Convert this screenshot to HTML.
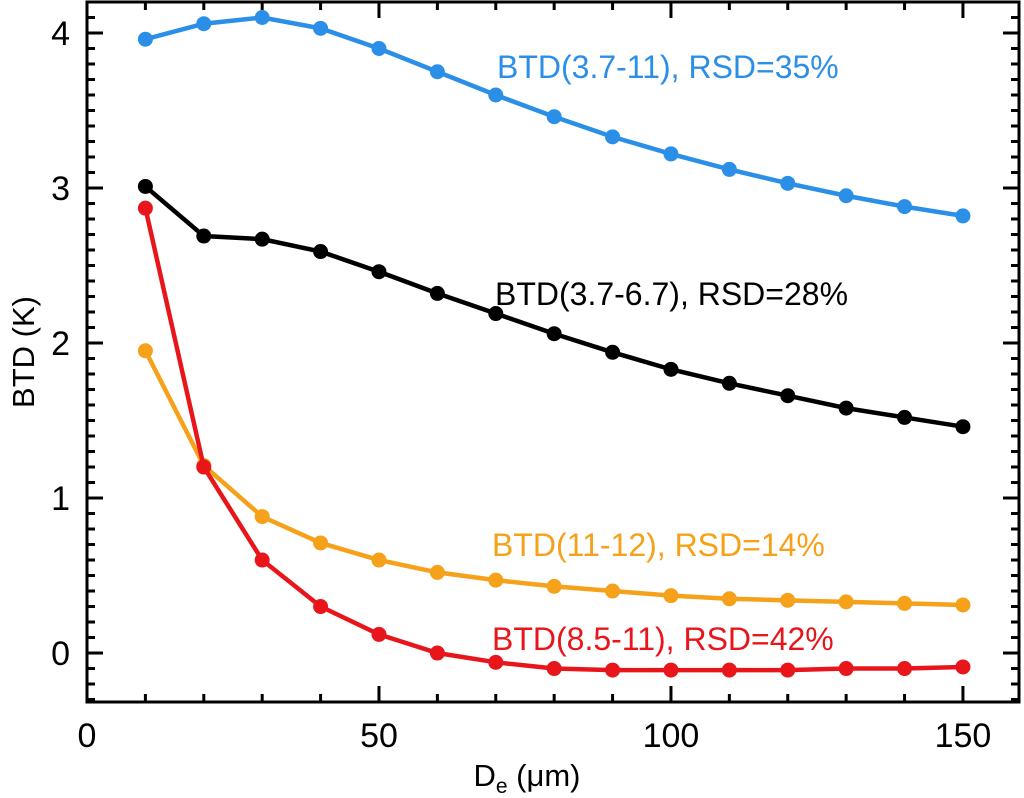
<!DOCTYPE html>
<html><head><meta charset="utf-8"><style>
html,body{margin:0;padding:0;background:#fff;}
svg{display:block;font-family:"Liberation Sans",sans-serif;}
</style></head><body>
<svg id="chart" width="1024" height="798"></svg>
<script>
const xVals=[10,20,30,40,50,60,70,80,90,100,110,120,130,140,150];
const blueVals=[3.96,4.06,4.10,4.03,3.90,3.75,3.60,3.46,3.33,3.22,3.12,3.03,2.95,2.88,2.82];
const blackVals=[3.01,2.69,2.67,2.59,2.46,2.32,2.19,2.06,1.94,1.83,1.74,1.66,1.58,1.52,1.46];
const orangeVals=[1.95,1.21,0.88,0.71,0.60,0.52,0.47,0.43,0.40,0.37,0.35,0.34,0.33,0.32,0.31];
const redVals=[2.87,1.20,0.60,0.30,0.12,0.00,-0.06,-0.10,-0.11,-0.11,-0.11,-0.11,-0.10,-0.10,-0.09];
const xTicks=[0,50,100,150];
const yTicks=[0,1,2,3,4];
const seriesNames=["BTD(3.7-11), RSD=35%","BTD(3.7-6.7), RSD=28%","BTD(11-12), RSD=14%","BTD(8.5-11), RSD=42%"];

const NS="http://www.w3.org/2000/svg";
const svg=document.getElementById('chart');
const L=87,R=1019,T=2,B=702;
const xmin=0,xmax=159.6,ymin=-0.316,ymax=4.2;
const sx=v=>L+(v-xmin)/(xmax-xmin)*(R-L);
const sy=v=>B-(v-ymin)/(ymax-ymin)*(B-T);
function el(t,a){const e=document.createElementNS(NS,t);for(const k in a)e.setAttribute(k,a[k]);svg.appendChild(e);return e;}

let f=el('rect',{x:L,y:T,width:R-L,height:B-T,fill:'none',stroke:'#000','stroke-width':3});



for(let v=0;v<=xmax;v+=10){
  const big=v%50===0,len=big?16:8,x=sx(v);
  let a=el('line',{x1:x,x2:x,y1:B,y2:B-len,stroke:'#000','stroke-width':3});
  
  
  let b=el('line',{x1:x,x2:x,y1:T,y2:T+len,stroke:'#000','stroke-width':3});
  
  
}
for(let i=-3;i<=42;i++){
  const v=i/10;const big=i%10===0,len=big?16:8,y=sy(v);
  let a=el('line',{x1:L,x2:L+len,y1:y,y2:y,stroke:'#000','stroke-width':3});
  
  
  let b=el('line',{x1:R,x2:R-len,y1:y,y2:y,stroke:'#000','stroke-width':3});
  
  
}
xTicks.forEach(v=>{
  let t=el('text',{x:sx(v),y:747,'text-anchor':'middle','font-size':34,fill:'#000'});
  t.textContent=v;
  
  
});
yTicks.forEach(v=>{
  let t=el('text',{x:70,y:sy(v)+12,'text-anchor':'end','font-size':34,fill:'#000'});
  t.textContent=v;
  
  
});
let xt=el('text',{x:527,y:786,'text-anchor':'middle','font-size':31,fill:'#000'});
xt.innerHTML='D<tspan font-size="21" dy="7">e</tspan><tspan dy="-7"> (μm)</tspan>';


let yt=el('text',{x:0,y:0,'text-anchor':'middle','font-size':31,fill:'#000',transform:'translate(34,352) rotate(-90)'});
yt.textContent='BTD (K)';



const series=[[blueVals,'#2b8fe8','blue',497,78],[blackVals,'#000','black',495,305],[orangeVals,'#f5a11a','orange',492,556],[redVals,'#e8161b','red',492,650]];
series.forEach((s,i)=>{
  const [vals,c,nm,lx,ly]=s;
  let p=el('polyline',{points:vals.map((v,j)=>sx(xVals[j])+','+sy(v)).join(' '),fill:'none',stroke:c,'stroke-width':4.5});
  
  
  vals.forEach((v,j)=>{
    let d=el('circle',{cx:sx(xVals[j]),cy:sy(v),r:7.5,fill:c});
    
    
  });
  let t=el('text',{x:lx,y:ly,'font-size':32,fill:c});
  t.textContent=seriesNames[i];
  
  
});
</script>
</body></html>
